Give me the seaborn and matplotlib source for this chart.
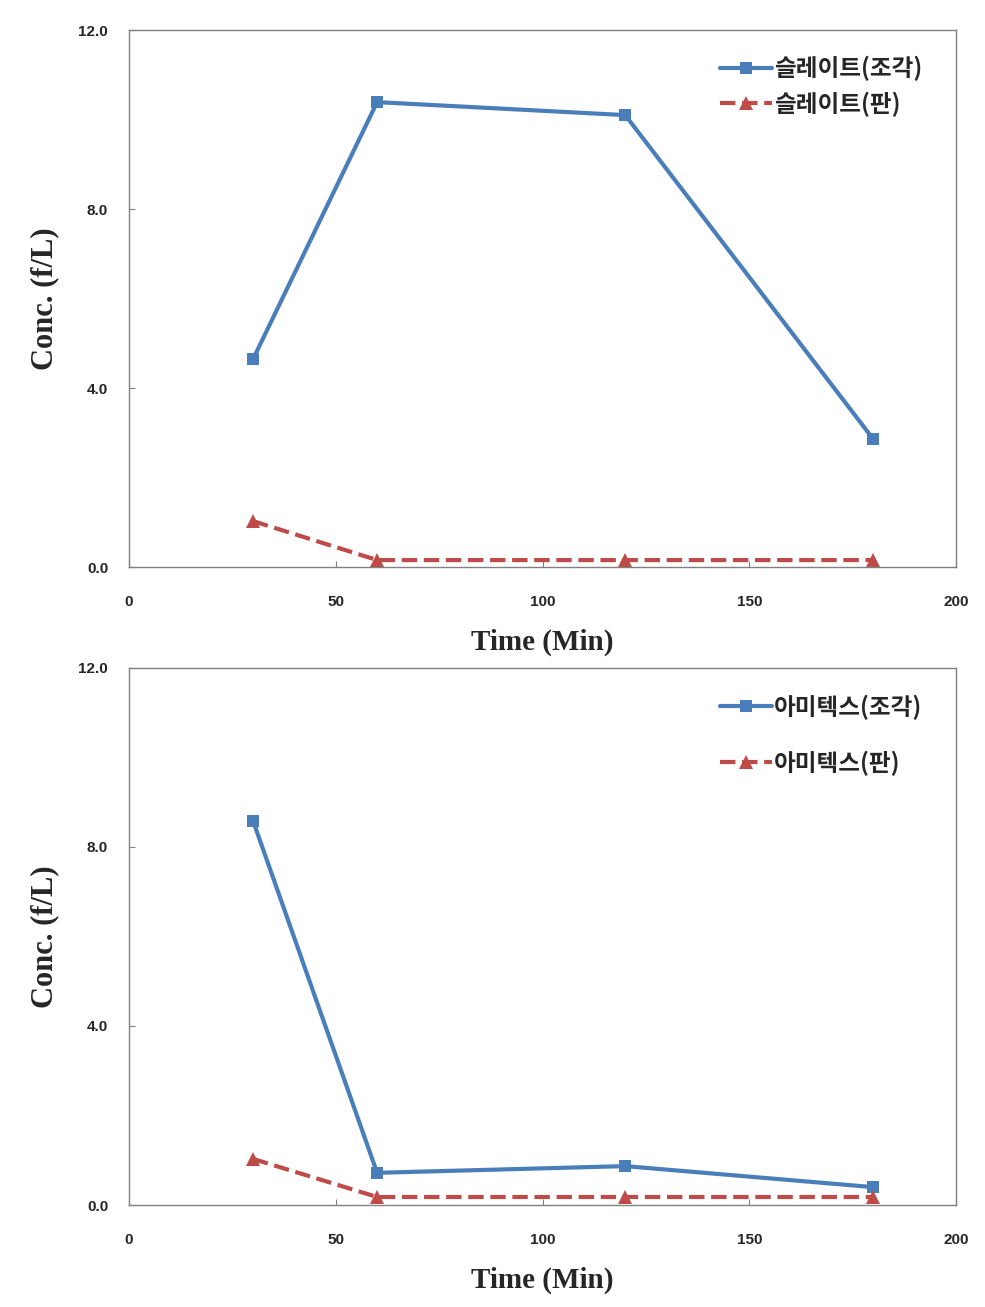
import pandas as pd
import seaborn as sns
import matplotlib.pyplot as plt

# Sampling times (min)
time = [30, 60, 120, 180]

# Panel 1: slate
slate_piece = [4.65, 10.39, 10.10, 2.86]
slate_board = [1.03, 0.16, 0.16, 0.16]
slate_labels = ['슬레이트(조각)', '슬레이트(판)']

# Panel 2: amitex
amitex_piece = [8.58, 0.72, 0.87, 0.40]
amitex_board = [1.03, 0.18, 0.18, 0.18]
amitex_labels = ['아미텍스(조각)', '아미텍스(판)']

yticks = [0.0, 4.0, 8.0, 12.0]
xticks = [0, 50, 100, 150, 200]

sns.set_style("white")
plt.rcParams['font.family'] = ['Noto Sans CJK KR', 'DejaVu Sans']

blue = '#4A7EBB'
red = '#BE4B48'

fig = plt.figure(figsize=(9.85, 13.07), dpi=100)
ax1 = fig.add_axes([0.131, 0.566, 0.8396, 0.411])
ax2 = fig.add_axes([0.131, 0.078, 0.8396, 0.411])

panels = [(ax1, slate_piece, slate_board, slate_labels, 0.45, 0.992),
          (ax2, amitex_piece, amitex_board, amitex_labels, 1.3, 0.99)]

for ax, piece, board, labels, lspace, ly in panels:
    df = pd.DataFrame({'Time': time, 'piece': piece, 'board': board})
    sns.lineplot(x='Time', y='piece', data=df, ax=ax, color=blue, marker='s',
                 markersize=9, markeredgewidth=0, linewidth=3, label=labels[0])
    sns.lineplot(x='Time', y='board', data=df, ax=ax, color=red, marker='^',
                 markersize=10, markeredgewidth=0, linewidth=3, linestyle='--',
                 label=labels[1])
    ax.set_xlim(0, 200)
    ax.set_ylim(0, 12)
    ax.set_xticks(xticks)
    ax.set_yticks(yticks)
    ax.set_xticklabels([str(v) for v in xticks], fontsize=11, fontweight='bold',
                       family=['Liberation Sans', 'DejaVu Sans'])
    ax.set_yticklabels([f'{v:.1f}' for v in yticks], fontsize=11, fontweight='bold',
                       family=['Liberation Sans', 'DejaVu Sans'])
    ax.tick_params(direction='in', length=4, bottom=True, left=True,
                   color='#808080')
    ax.tick_params(axis='x', pad=20)
    ax.tick_params(axis='y', pad=15)
    for s in ax.spines.values():
        s.set_color('#808080')
        s.set_linewidth(1)
    ax.set_xlabel('Time (Min)', fontsize=21, fontweight='bold',
                  family='Liberation Serif', labelpad=14)
    ax.set_ylabel('Conc. (f/L)', fontsize=22, fontweight='bold',
                  family='Liberation Serif', labelpad=14)
    leg = ax.legend(loc='upper right', bbox_to_anchor=(0.985, ly), frameon=False,
                    handlelength=2.2, handletextpad=0.1, labelspacing=lspace,
                    prop={'family': ['Noto Sans CJK KR', 'DejaVu Sans'],
                          'weight': 'bold', 'size': 17})

fig.savefig('out.png', dpi=100)
